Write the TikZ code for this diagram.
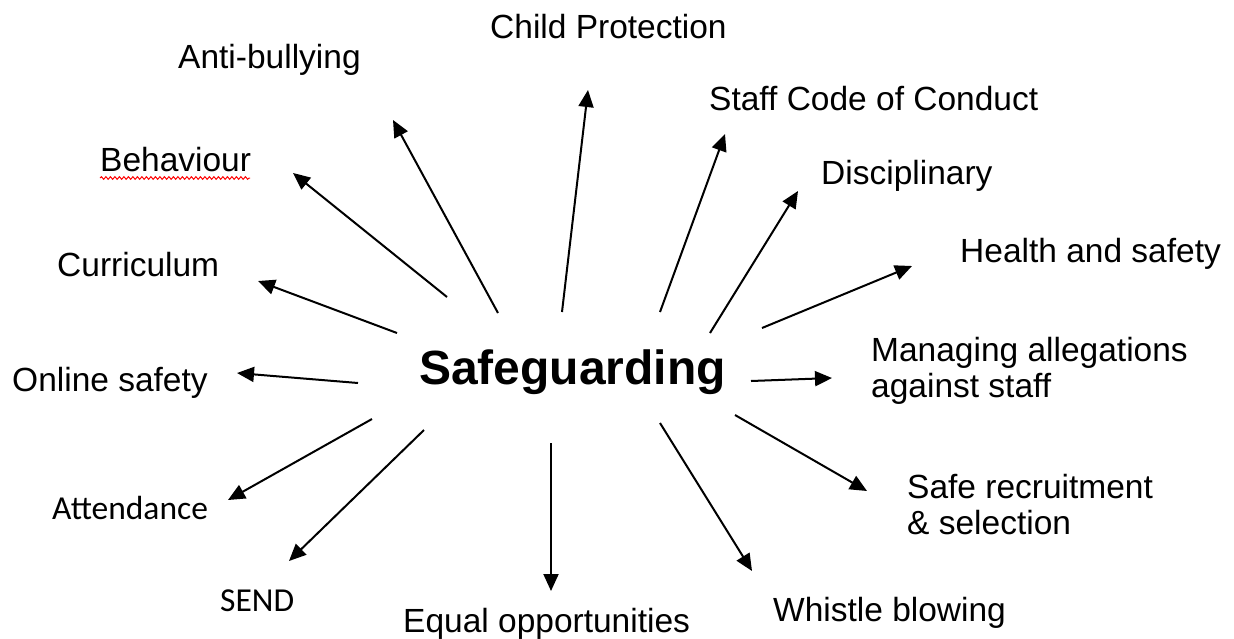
\documentclass[tikz,border=0pt]{standalone}
\usepackage{fontspec}
\setmainfont{Liberation Sans}
\newfontfamily\calfont{Carlito}
\usetikzlibrary{arrows.meta,decorations.pathmorphing}
\begin{document}
\begin{tikzpicture}[x=1pt,y=-1pt,
  lbl/.style={anchor=base west, inner sep=0pt, align=left, font=\fontsize{33.5}{36}\selectfont},
  cal/.style={anchor=base west, inner sep=0pt, font=\calfont\fontsize{33.5}{38}\selectfont},
  hub/.style={anchor=base west, inner sep=0pt, font=\bfseries\fontsize{48}{54}\selectfont},
  spoke/.style={-{Triangle[length=17pt,width=15pt]}, line width=2pt, black},
  squiggle/.style={red, line width=1pt, decorate, decoration={snake, amplitude=1.3pt, segment length=4.5pt}}
]
\useasboundingbox (0,0) rectangle (1234,638);
\fill[white] (0,0) rectangle (1234,638);

% labels
\node[hub] (hubnode) at (419,384) {Safeguarding};
\node[lbl] (cpl) at (490,38) {Child Protection};
\node[lbl] (abl) at (178,68) {Anti-bullying};
\node[lbl] (scl) at (709,110) {Staff Code of Conduct};
\node[lbl] (bel) at (100,171) {Behaviour};
\node[lbl] (dil) at (821,184) {Disciplinary};
\node[lbl] (cul) at (57,276) {Curriculum};
\node[lbl] (hsl) at (960,262) {Health and safety};
\node[lbl] (osl) at (12,391) {Online safety};
\node[lbl] (mal) at (871,397) {Managing allegations\\against staff};
\node[cal] (atl) at (52,519) {Attendance};
\node[lbl] (srl) at (907,534) {Safe recruitment\\\& selection};
\node[cal] (sel) at (220,611) {SEND};
\node[lbl] (eql) at (403,632) {Equal opportunities};
\node[lbl] (wbl) at (773,621) {Whistle blowing};

% spelling underline
\draw[squiggle] (100,178) -- (250,178);

% spoke end points
\coordinate (cps) at (562,312); \coordinate (cpt) at (588,90);
\coordinate (abs) at (498,313); \coordinate (abt) at (393,120);
\coordinate (scs) at (660,312); \coordinate (sct) at (725,134);
\coordinate (bes) at (447,297); \coordinate (bet) at (293,173);
\coordinate (dis) at (710,333); \coordinate (dit) at (798,191);
\coordinate (cus) at (397,333); \coordinate (cut) at (258,281);
\coordinate (hss) at (762,328); \coordinate (hst) at (912,266);
\coordinate (oss) at (358,383); \coordinate (ost) at (237,373);
\coordinate (mas) at (751,381); \coordinate (mat) at (832,378);
\coordinate (ats) at (372,419); \coordinate (att) at (228,500);
\coordinate (ses) at (424,430); \coordinate (set) at (289,561);
\coordinate (eqs) at (551,443); \coordinate (eqt) at (551,591);
\coordinate (wbs) at (660,423); \coordinate (wbt) at (752,571);
\coordinate (srs) at (735,415); \coordinate (srt) at (867,491);

\foreach \k in {cp,ab,sc,be,di,cu,hs,os,ma,at,se,eq,wb,sr}
  \draw[spoke] (\k s) -- (\k t);
\end{tikzpicture}
\end{document}
